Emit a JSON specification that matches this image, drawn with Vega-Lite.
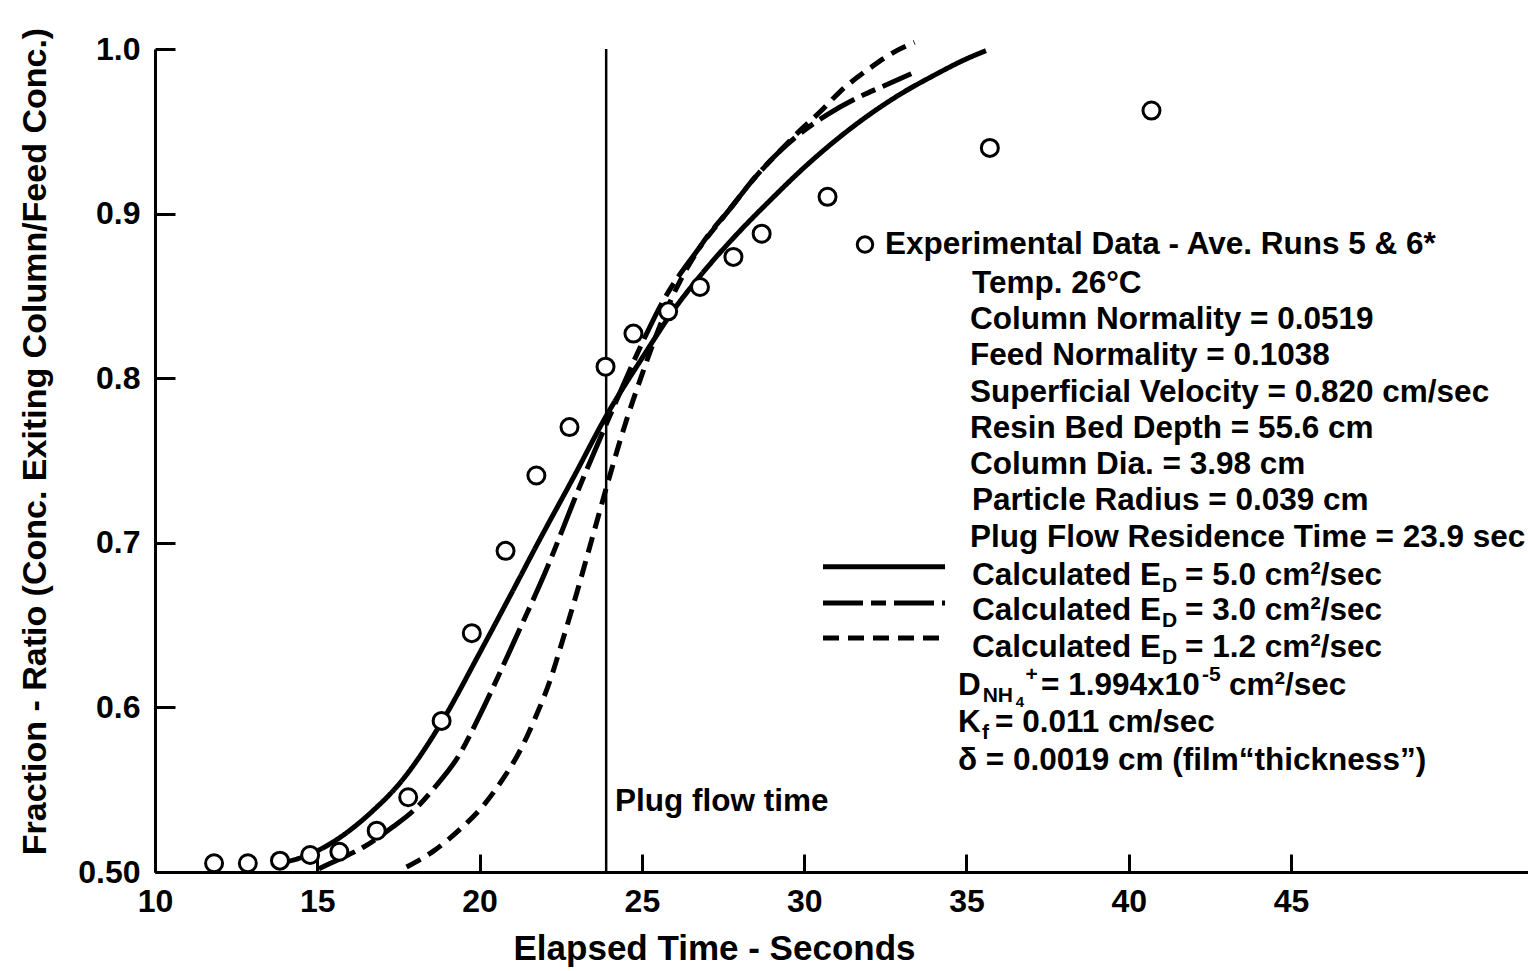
{
  "$schema": "https://vega.github.io/schema/vega-lite/v6.json",
  "width": 1373,
  "height": 823,
  "autosize": {"type": "none"},
  "padding": {"left": 155, "top": 49, "right": 0, "bottom": 99},
  "background": "white",
  "config": {
    "view": {"stroke": null},
    "font": "Liberation Sans",
    "axis": {
      "grid": false,
      "domainColor": "black",
      "domainWidth": 3,
      "tickColor": "black",
      "tickWidth": 3,
      "labelColor": "black",
      "labelFont": "Liberation Sans",
      "labelFontWeight": "bold",
      "labelFontSize": 32,
      "titleColor": "black",
      "titleFont": "Liberation Sans",
      "titleFontWeight": "bold",
      "labelFlush": false,
      "labelOverlap": false
    }
  },
  "datasets": {
    "curves": [
      {"ed": "5.0", "part": "curve", "t": 13.8, "ratio": 0.505},
      {"ed": "5.0", "part": "curve", "t": 14.8, "ratio": 0.511},
      {"ed": "5.0", "part": "curve", "t": 15.7, "ratio": 0.521},
      {"ed": "5.0", "part": "curve", "t": 16.7, "ratio": 0.537},
      {"ed": "5.0", "part": "curve", "t": 17.5, "ratio": 0.553},
      {"ed": "5.0", "part": "curve", "t": 18.8, "ratio": 0.590},
      {"ed": "5.0", "part": "curve", "t": 20.0, "ratio": 0.633},
      {"ed": "5.0", "part": "curve", "t": 21.0, "ratio": 0.670},
      {"ed": "5.0", "part": "curve", "t": 21.8, "ratio": 0.700},
      {"ed": "5.0", "part": "curve", "t": 22.9, "ratio": 0.740},
      {"ed": "5.0", "part": "curve", "t": 23.9, "ratio": 0.777},
      {"ed": "5.0", "part": "curve", "t": 25.0, "ratio": 0.812},
      {"ed": "5.0", "part": "curve", "t": 26.0, "ratio": 0.842},
      {"ed": "5.0", "part": "curve", "t": 27.0, "ratio": 0.867},
      {"ed": "5.0", "part": "curve", "t": 28.0, "ratio": 0.889},
      {"ed": "5.0", "part": "curve", "t": 29.0, "ratio": 0.909},
      {"ed": "5.0", "part": "curve", "t": 30.0, "ratio": 0.928},
      {"ed": "5.0", "part": "curve", "t": 31.0, "ratio": 0.945},
      {"ed": "5.0", "part": "curve", "t": 32.0, "ratio": 0.960},
      {"ed": "5.0", "part": "curve", "t": 33.0, "ratio": 0.973},
      {"ed": "5.0", "part": "curve", "t": 34.0, "ratio": 0.984},
      {"ed": "5.0", "part": "curve", "t": 35.0, "ratio": 0.994},
      {"ed": "5.0", "part": "curve", "t": 35.6, "ratio": 0.999},
      {"ed": "3.0", "part": "curve", "t": 15.05, "ratio": 0.502},
      {"ed": "3.0", "part": "curve", "t": 15.7, "ratio": 0.508},
      {"ed": "3.0", "part": "curve", "t": 16.5, "ratio": 0.516},
      {"ed": "3.0", "part": "curve", "t": 17.3, "ratio": 0.527},
      {"ed": "3.0", "part": "curve", "t": 18.0, "ratio": 0.538},
      {"ed": "3.0", "part": "curve", "t": 18.6, "ratio": 0.551},
      {"ed": "3.0", "part": "curve", "t": 19.4, "ratio": 0.572},
      {"ed": "3.0", "part": "curve", "t": 20.0, "ratio": 0.595},
      {"ed": "3.0", "part": "curve", "t": 20.6, "ratio": 0.620},
      {"ed": "3.0", "part": "curve", "t": 21.2, "ratio": 0.646},
      {"ed": "3.0", "part": "curve", "t": 22.0, "ratio": 0.681},
      {"ed": "3.0", "part": "curve", "t": 23.1, "ratio": 0.735},
      {"ed": "3.0", "part": "curve", "t": 23.9, "ratio": 0.772},
      {"ed": "3.0", "part": "curve", "t": 25.0, "ratio": 0.821},
      {"ed": "3.0", "part": "curve", "t": 25.6, "ratio": 0.845},
      {"ed": "3.0", "part": "curve", "t": 26.8, "ratio": 0.880},
      {"ed": "3.0", "part": "curve", "t": 27.8, "ratio": 0.905},
      {"ed": "3.0", "part": "curve", "t": 28.4, "ratio": 0.920},
      {"ed": "3.0", "part": "curve", "t": 29.2, "ratio": 0.937},
      {"ed": "3.0", "part": "curve", "t": 29.9, "ratio": 0.949},
      {"ed": "3.0", "part": "curve", "t": 30.7, "ratio": 0.960},
      {"ed": "3.0", "part": "curve", "t": 31.6, "ratio": 0.970},
      {"ed": "3.0", "part": "curve", "t": 32.5, "ratio": 0.978},
      {"ed": "3.0", "part": "curve", "t": 33.3, "ratio": 0.985},
      {"ed": "1.2", "part": "curve", "t": 17.75, "ratio": 0.503},
      {"ed": "1.2", "part": "curve", "t": 18.6, "ratio": 0.513},
      {"ed": "1.2", "part": "curve", "t": 19.4, "ratio": 0.526},
      {"ed": "1.2", "part": "curve", "t": 20.1, "ratio": 0.540},
      {"ed": "1.2", "part": "curve", "t": 20.7, "ratio": 0.556},
      {"ed": "1.2", "part": "curve", "t": 21.2, "ratio": 0.572},
      {"ed": "1.2", "part": "curve", "t": 21.7, "ratio": 0.593},
      {"ed": "1.2", "part": "curve", "t": 22.2, "ratio": 0.618},
      {"ed": "1.2", "part": "curve", "t": 22.5, "ratio": 0.637},
      {"ed": "1.2", "part": "curve", "t": 23.0, "ratio": 0.670},
      {"ed": "1.2", "part": "curve", "t": 23.5, "ratio": 0.705},
      {"ed": "1.2", "part": "curve", "t": 24.0, "ratio": 0.740},
      {"ed": "1.2", "part": "curve", "t": 24.5, "ratio": 0.773},
      {"ed": "1.2", "part": "curve", "t": 25.0, "ratio": 0.802},
      {"ed": "1.2", "part": "curve", "t": 25.5, "ratio": 0.829},
      {"ed": "1.2", "part": "curve", "t": 26.0, "ratio": 0.852},
      {"ed": "1.2", "part": "curve", "t": 26.8, "ratio": 0.880},
      {"ed": "1.2", "part": "curve", "t": 27.8, "ratio": 0.905},
      {"ed": "1.2", "part": "curve", "t": 28.4, "ratio": 0.920},
      {"ed": "1.2", "part": "curve", "t": 29.2, "ratio": 0.937},
      {"ed": "1.2", "part": "curve", "t": 29.9, "ratio": 0.951},
      {"ed": "1.2", "part": "curve", "t": 30.5, "ratio": 0.962},
      {"ed": "1.2", "part": "curve", "t": 31.1, "ratio": 0.974},
      {"ed": "1.2", "part": "curve", "t": 32.0, "ratio": 0.988},
      {"ed": "1.2", "part": "curve", "t": 32.85, "ratio": 0.999},
      {"ed": "1.2", "part": "curve", "t": 33.4, "ratio": 1.004},
      {"ed": "5.0", "part": "key", "t": 30.58, "ratio": 0.6854},
      {"ed": "5.0", "part": "key", "t": 34.34, "ratio": 0.6854},
      {"ed": "3.0", "part": "key", "t": 30.58, "ratio": 0.6635},
      {"ed": "3.0", "part": "key", "t": 34.34, "ratio": 0.6635},
      {"ed": "1.2", "part": "key", "t": 30.58, "ratio": 0.6422},
      {"ed": "1.2", "part": "key", "t": 34.34, "ratio": 0.6422}
    ],
    "experimental": [
      {"t": 11.82, "ratio": 0.5053},
      {"t": 12.86, "ratio": 0.5053},
      {"t": 13.85, "ratio": 0.5069},
      {"t": 14.78, "ratio": 0.5103},
      {"t": 15.68, "ratio": 0.5123},
      {"t": 16.83, "ratio": 0.5251},
      {"t": 17.80, "ratio": 0.5454},
      {"t": 18.83, "ratio": 0.5918},
      {"t": 19.76, "ratio": 0.6451},
      {"t": 20.80, "ratio": 0.6951},
      {"t": 21.75, "ratio": 0.7409},
      {"t": 22.77, "ratio": 0.7703},
      {"t": 23.88, "ratio": 0.8070},
      {"t": 24.74, "ratio": 0.8271},
      {"t": 25.81, "ratio": 0.8406},
      {"t": 26.79, "ratio": 0.8554},
      {"t": 27.82, "ratio": 0.8737},
      {"t": 28.69, "ratio": 0.8878},
      {"t": 30.72, "ratio": 0.9102},
      {"t": 35.72, "ratio": 0.9399},
      {"t": 40.70, "ratio": 0.9626}
    ],
    "keymarker": [
      {"t": 31.874, "ratio": 0.8812}
    ],
    "plug": [
      {"t": 23.9, "lo": 0.5, "hi": 1.0}
    ],
    "notes": [
      {"t": 32.49, "ratio": 0.8812, "text": "Experimental Data - Ave. Runs 5 & 6*", "role": "main"},
      {"t": 35.17, "ratio": 0.8574, "text": "Temp. 26°C", "role": "main"},
      {"t": 35.108, "ratio": 0.8356, "text": "Column Normality = 0.0519", "role": "main"},
      {"t": 35.108, "ratio": 0.8137, "text": "Feed Normality = 0.1038", "role": "main"},
      {"t": 35.108, "ratio": 0.7912, "text": "Superficial Velocity = 0.820 cm/sec", "role": "main"},
      {"t": 35.108, "ratio": 0.7693, "text": "Resin Bed Depth = 55.6 cm", "role": "main"},
      {"t": 35.108, "ratio": 0.7474, "text": "Column Dia. = 3.98 cm", "role": "main"},
      {"t": 35.17, "ratio": 0.7255, "text": "Particle Radius = 0.039 cm", "role": "main"},
      {"t": 35.108, "ratio": 0.7030, "text": "Plug Flow Residence Time = 23.9 sec", "role": "main"},
      {"t": 35.17, "ratio": 0.6799, "text": "Calculated E", "role": "main"},
      {"t": 41.024, "ratio": 0.6738, "text": "D", "role": "sub"},
      {"t": 41.733, "ratio": 0.6799, "text": "= 5.0 cm²/sec", "role": "main"},
      {"t": 35.17, "ratio": 0.6587, "text": "Calculated E", "role": "main"},
      {"t": 41.024, "ratio": 0.6526, "text": "D", "role": "sub"},
      {"t": 41.733, "ratio": 0.6587, "text": "= 3.0 cm²/sec", "role": "main"},
      {"t": 35.17, "ratio": 0.6362, "text": "Calculated E", "role": "main"},
      {"t": 41.024, "ratio": 0.6301, "text": "D", "role": "sub"},
      {"t": 41.733, "ratio": 0.6362, "text": "= 1.2 cm²/sec", "role": "main"},
      {"t": 34.738, "ratio": 0.6131, "text": "D", "role": "main"},
      {"t": 35.50, "ratio": 0.6070, "text": "NH", "role": "sub"},
      {"t": 36.52, "ratio": 0.6030, "text": "4", "role": "tiny"},
      {"t": 36.82, "ratio": 0.6195, "text": "+", "role": "sub"},
      {"t": 37.30, "ratio": 0.6131, "text": "= 1.994x10", "role": "main"},
      {"t": 42.26, "ratio": 0.6195, "text": "-5", "role": "sub"},
      {"t": 43.09, "ratio": 0.6131, "text": "cm²/sec", "role": "main"},
      {"t": 34.738, "ratio": 0.5906, "text": "K", "role": "main"},
      {"t": 35.478, "ratio": 0.5845, "text": "f", "role": "sub"},
      {"t": 35.879, "ratio": 0.5906, "text": "= 0.011 cm/sec", "role": "main"},
      {"t": 34.738, "ratio": 0.5675, "text": "δ = 0.0019 cm (film“thickness”)", "role": "main"},
      {"t": 24.171, "ratio": 0.5426, "text": "Plug flow time", "role": "main"}
    ]
  },
  "layer": [
    {
      "data": {"name": "plug"},
      "mark": {"type": "rule", "strokeWidth": 2.5, "color": "black"},
      "encoding": {
        "x": {
          "field": "t",
          "type": "quantitative",
          "scale": {"domain": [10, 52.3], "nice": false, "zero": false},
          "axis": {
            "values": [10, 15, 20, 25, 30, 35, 40, 45],
            "tickSize": -18,
            "labelPadding": 32,
            "title": "Elapsed Time - Seconds",
            "titleFontSize": 35,
            "titleX": 559,
            "titleY": 76,
            "titleBaseline": "middle",
            "titleAlign": "center"
          }
        },
        "y": {
          "field": "lo",
          "type": "quantitative",
          "scale": {"domain": [0.5, 1.0], "nice": false, "zero": false},
          "axis": {
            "values": [0.5, 0.6, 0.7, 0.8, 0.9, 1.0],
            "labelExpr": "datum.value == 0.5 ? '0.50' : format(datum.value, '.1f')",
            "tickSize": -20,
            "labelPadding": 35,
            "title": "Fraction - Ratio (Conc. Exiting Column/Feed Conc.)",
            "titleFontSize": 34,
            "titleX": -120,
            "titleY": 392,
            "titleBaseline": "middle",
            "titleAlign": "center",
            "titleAngle": -90
          }
        },
        "y2": {"field": "hi"}
      }
    },
    {
      "data": {"name": "curves"},
      "mark": {"type": "line", "strokeWidth": 5, "color": "black", "clip": false, "strokeCap": "butt", "interpolate": "monotone"},
      "encoding": {
        "x": {"field": "t", "type": "quantitative"},
        "y": {"field": "ratio", "type": "quantitative"},
        "strokeDash": {
          "field": "ed",
          "type": "nominal",
          "scale": {"domain": ["5.0", "3.0", "1.2"], "range": [[1, 0], [40, 8, 15, 8], [16, 9]]},
          "legend": null
        },
        "detail": {"field": "part", "type": "nominal"}
      }
    },
    {
      "data": {"name": "experimental"},
      "mark": {"type": "point", "shape": "circle", "filled": true, "fill": "white", "stroke": "black", "strokeWidth": 3, "size": 289, "opacity": 1},
      "encoding": {
        "x": {"field": "t", "type": "quantitative"},
        "y": {"field": "ratio", "type": "quantitative"}
      }
    },
    {
      "data": {"name": "keymarker"},
      "mark": {"type": "point", "shape": "circle", "filled": true, "fill": "white", "stroke": "black", "strokeWidth": 3, "size": 240, "opacity": 1},
      "encoding": {
        "x": {"field": "t", "type": "quantitative"},
        "y": {"field": "ratio", "type": "quantitative"}
      }
    },
    {
      "data": {"name": "notes"},
      "transform": [{"filter": "datum.role == 'main'"}],
      "mark": {"type": "text", "align": "left", "baseline": "middle", "fontSize": 31.5, "fontWeight": "bold", "font": "Liberation Sans", "color": "black"},
      "encoding": {
        "x": {"field": "t", "type": "quantitative"},
        "y": {"field": "ratio", "type": "quantitative"},
        "text": {"field": "text"}
      }
    },
    {
      "data": {"name": "notes"},
      "transform": [{"filter": "datum.role == 'sub'"}],
      "mark": {"type": "text", "align": "left", "baseline": "middle", "fontSize": 21, "fontWeight": "bold", "font": "Liberation Sans", "color": "black"},
      "encoding": {
        "x": {"field": "t", "type": "quantitative"},
        "y": {"field": "ratio", "type": "quantitative"},
        "text": {"field": "text"}
      }
    },
    {
      "data": {"name": "notes"},
      "transform": [{"filter": "datum.role == 'tiny'"}],
      "mark": {"type": "text", "align": "left", "baseline": "middle", "fontSize": 15, "fontWeight": "bold", "font": "Liberation Sans", "color": "black"},
      "encoding": {
        "x": {"field": "t", "type": "quantitative"},
        "y": {"field": "ratio", "type": "quantitative"},
        "text": {"field": "text"}
      }
    }
  ]
}
